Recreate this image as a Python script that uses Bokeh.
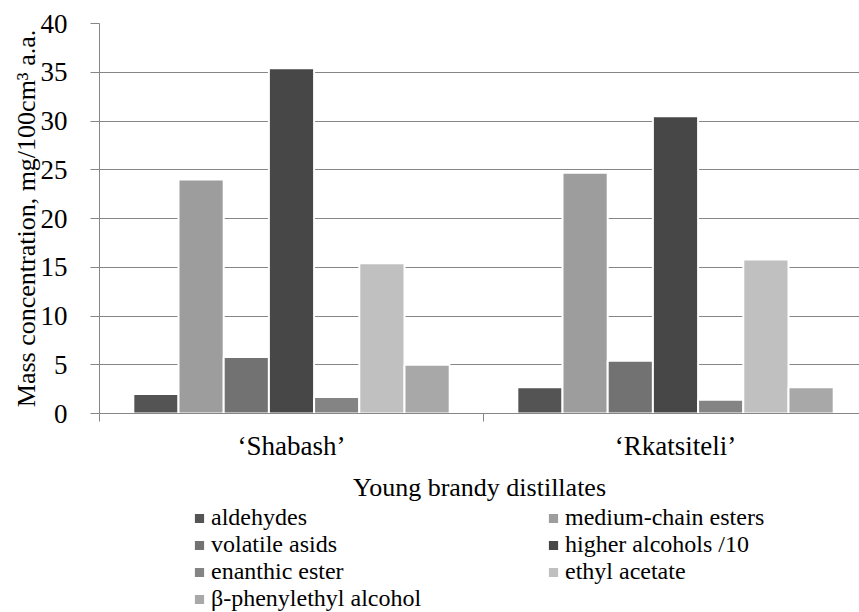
from bokeh.plotting import figure
from bokeh.models import Range1d, FixedTicker, Legend, LegendItem, ColumnDataSource
from bokeh.layouts import column
from bokeh.embed import file_html
from bokeh.resources import INLINE

# ---- data ----
categories = ["\u2018Shabash\u2019", "\u2018Rkatsiteli\u2019"]
series = ["aldehydes", "medium-chain esters", "volatile asids", "higher alcohols /10",
          "enanthic ester", "ethyl acetate", "\u03b2-phenylethyl alcohol"]
aldehydes = [2.0, 2.7]
medium_chain_esters = [24.0, 24.7]
volatile_asids = [5.8, 5.4]
higher_alcohols_10 = [35.4, 30.5]
enanthic_ester = [1.7, 1.4]
ethyl_acetate = [15.4, 15.8]
phenylethyl_alcohol = [5.0, 2.7]
y_ticks = [0, 5, 10, 15, 20, 25, 30, 35, 40]

values = [aldehydes, medium_chain_esters, volatile_asids, higher_alcohols_10,
          enanthic_ester, ethyl_acetate, phenylethyl_alcohol]
colors = ["#545454", "#9d9d9d", "#727272", "#474747", "#848484", "#c0c0c0", "#a8a8a8"]

FONT = "Liberation Serif"
GRAY = "#868686"

slot = 0.1177
p = figure(width=859, height=505, output_backend="svg", toolbar_location=None,
           x_range=Range1d(0, 760 / 384), y_range=Range1d(0, 40),
           min_border_left=99, min_border_top=23, min_border_right=0, min_border_bottom=92)
p.outline_line_color = None
p.background_fill_color = "white"
p.border_fill_color = "white"

sources = []
for j, (name, vals, col) in enumerate(zip(series, values, colors)):
    xs = [i + 0.5 + (j - 3) * slot for i in range(len(categories))]
    src = ColumnDataSource(dict(x=xs, top=vals))
    sources.append(src)
    p.vbar(x="x", top="top", bottom=0, width=slot, source=src,
           fill_color=col, line_color="white", line_width=2)

# x axis
xa = p.xaxis[0]
xa.ticker = FixedTicker(ticks=[i + 0.5 for i in range(len(categories))],
                        minor_ticks=list(range(len(categories) + 1)))
xa.major_label_overrides = {i + 0.5: c for i, c in enumerate(categories)}
xa.major_tick_line_color = None
xa.major_tick_out = 8
xa.major_tick_in = 0
xa.minor_tick_out = 8
xa.minor_tick_in = 0
xa.minor_tick_line_color = GRAY
xa.axis_line_color = GRAY
xa.major_label_standoff = 9
xa.major_label_text_font = FONT
xa.major_label_text_font_size = "27px"
xa.major_label_text_color = "black"
xa.axis_label = "Young brandy distillates"
xa.axis_label_text_font = FONT
xa.axis_label_text_font_size = "26px"
xa.axis_label_text_font_style = "normal"
xa.axis_label_text_color = "black"
xa.axis_label_standoff = 9

# y axis
ya = p.yaxis[0]
ya.ticker = FixedTicker(ticks=y_ticks)
ya.major_tick_out = 9
ya.major_tick_in = 0
ya.major_tick_line_color = GRAY
ya.minor_tick_line_color = None
ya.axis_line_color = GRAY
ya.major_label_standoff = 23
ya.major_label_text_font = FONT
ya.major_label_text_font_size = "27px"
ya.major_label_text_color = "black"
ya.axis_label = "Mass concentration, mg/100cm\u00b3 a.a."
ya.axis_label_text_font = FONT
ya.axis_label_text_font_size = "26px"
ya.axis_label_text_font_style = "normal"
ya.axis_label_text_color = "black"
ya.axis_label_standoff = -3

p.xgrid.visible = False
p.ygrid.grid_line_color = GRAY
p.ygrid.grid_line_width = 1

# legend panel: same bars, placed far outside this panel's view, only their swatches show
pl = figure(width=859, height=107, output_backend="svg", toolbar_location=None,
            x_range=Range1d(-100, -99), y_range=Range1d(-100, -99),
            x_axis_type=None, y_axis_type=None,
            min_border_left=0, min_border_top=0, min_border_right=0, min_border_bottom=0)
pl.outline_line_color = None
pl.xgrid.visible = False
pl.ygrid.visible = False
swatches = [pl.vbar(x="x", top="top", bottom=0, width=slot, source=src,
                    fill_color=col, line_color="white", line_width=2)
            for src, col in zip(sources, colors)]
legend = Legend(items=[LegendItem(label=s, renderers=[r]) for s, r in zip(series, swatches)],
                orientation="horizontal", ncols=2, location=(93, 0),
                padding=0, margin=0, spacing=0, glyph_width=14, glyph_height=14,
                label_standoff=5, label_width=335,
                label_text_font=FONT, label_text_font_size="24px", label_text_color="black",
                border_line_color=None, background_fill_alpha=0)
pl.add_layout(legend, "center")

open("out.html", "w").write(file_html(column(p, pl), INLINE))
